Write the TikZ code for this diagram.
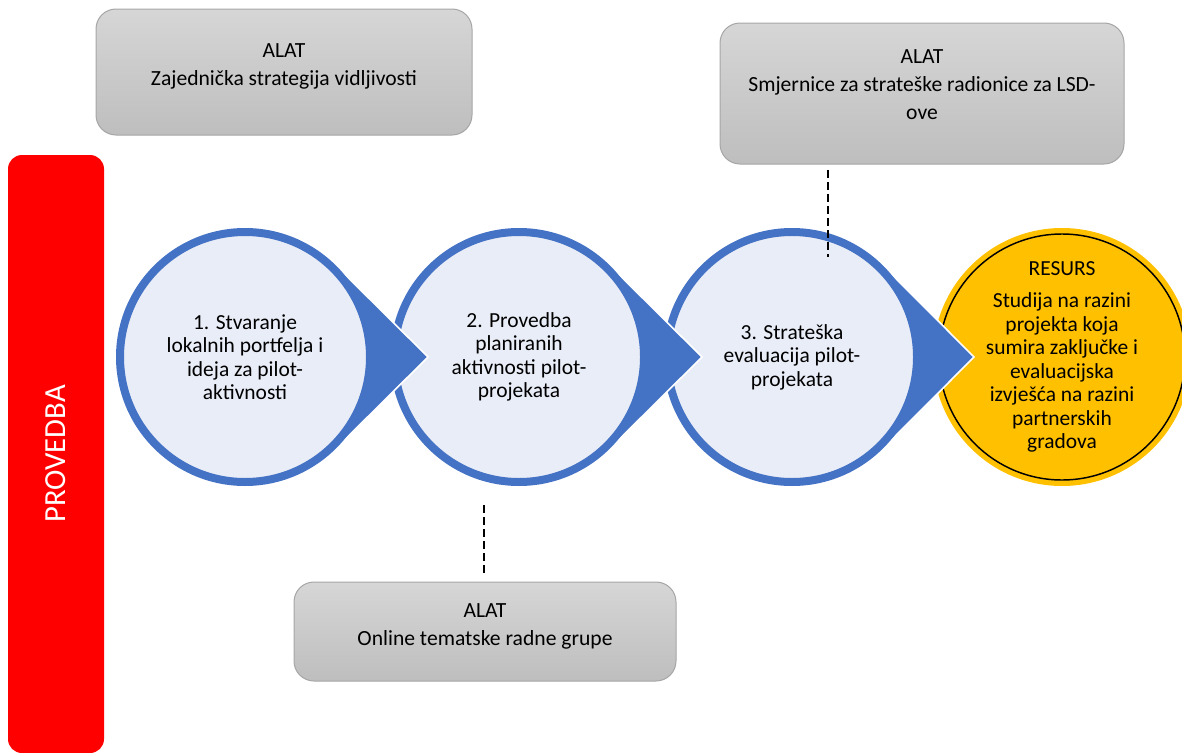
\documentclass[tikz,border=0pt]{standalone}
\usepackage{fontspec}
\setmainfont{Carlito}
\usetikzlibrary{calc}
\definecolor{blu}{HTML}{4472C4}
\definecolor{lightfill}{HTML}{E9EDF7}
\definecolor{yel}{HTML}{FFC000}
\definecolor{redbar}{HTML}{FF0000}
\definecolor{boxtop}{HTML}{D6D6D6}
\definecolor{boxbot}{HTML}{BEBEBE}
\definecolor{boxline}{HTML}{A6A6A6}
\begin{document}
\begin{tikzpicture}[x=0.75pt,y=-0.75pt,
  stage/.style={circle, draw=blu, line width=6pt, fill=lightfill, minimum size=187.5pt,
    inner sep=0pt, align=center, font=\fontsize{16.1}{17.6}\selectfont, text=black},
  tool/.style={rounded corners=15pt, draw=boxline, line width=0.75pt, top color=boxtop,
    bottom color=boxbot, inner sep=0pt, align=center, font=\fontsize{16.2}{21}\selectfont},
  tipedge/.style={draw=white, line width=1.2pt, line join=miter},
  dashline/.style={draw=black, line width=1pt, dash pattern=on 6pt off 3pt}]

\useasboundingbox (0,0) rectangle (1182,753);

% red side bar
\node[rotate=90, fill=redbar, rounded corners=10.5pt, minimum width=448.5pt, minimum height=72pt,
  inner sep=0pt, text=white, font=\fontsize{23}{27}\selectfont] (bar) at (56,454) {PROVEDBA};

% tool boxes
\node[tool, minimum width=282pt, text height=57pt, text depth=37.5pt] (box1) at (284,72)
  {ALAT\\Zajednička strategija vidljivosti};
\node[tool, minimum width=303pt, text height=72pt, text depth=33.75pt] (box2) at (922,93.5)
  {ALAT\\Smjernice za strateške radionice za LSD-\\ove};
\node[tool, minimum width=286.5pt, text height=47.25pt, text depth=27pt] (box3) at (485,631.5)
  {ALAT\\Online tematske radne grupe};

% centres and tips
\coordinate (c1) at (245,357);
\coordinate (c2) at (519,357);
\coordinate (c3) at (792,357);
\coordinate (c4) at (1062,357);
\coordinate (t1) at (428,357);
\coordinate (t2) at (702,357);
\coordinate (t3) at (974,357);

% resource circle
\fill[yel] (c4) circle[radius=129];
\draw[black, line width=1.1pt] (c4) circle[radius=123];
\node[align=center, font=\fontsize{16.1}{17.6}\selectfont, inner sep=0pt] (res) at (c4)
  {RESURS\\[6.4pt]Studija na razini\\projekta koja\\sumira zaključke i\\evaluacijska\\izvješća na razini\\partnerskih\\gradova};

% stage 3
\fill[blu] ($(c3)+(45.2:129)$) -- (t3) -- ($(c3)+(-45.2:129)$) -- (c3) -- cycle;
\draw[tipedge] ($(c3)+(45.2:129)$) -- (t3) -- ($(c3)+(-45.2:129)$);
\node[stage] (s3) at (c3) {3. Strateška\\evaluacija pilot-\\projekata};

% stage 2
\fill[blu] ($(c2)+(45.2:129)$) -- (t2) -- ($(c2)+(-45.2:129)$) -- (c2) -- cycle;
\draw[tipedge] ($(c2)+(45.2:129)$) -- (t2) -- ($(c2)+(-45.2:129)$);
\node[stage] (s2) at (c2) {2. Provedba\\planiranih\\aktivnosti pilot-\\projekata};

% stage 1
\fill[blu] ($(c1)+(45.2:129)$) -- (t1) -- ($(c1)+(-45.2:129)$) -- (c1) -- cycle;
\draw[tipedge] ($(c1)+(45.2:129)$) -- (t1) -- ($(c1)+(-45.2:129)$);
\node[stage] (s1) at (c1) {1. Stvaranje\\lokalnih portfelja i\\ideja za pilot-\\aktivnosti};

% dashed connectors
\coordinate (dA) at (828,257);
\draw[dashline, shorten <=4pt] (box2.south -| dA) -- (dA);
\coordinate (dB) at (484,505);
\draw[dashline, shorten >=6pt] (dB) -- (dB |- box3.north);
\end{tikzpicture}
\end{document}
